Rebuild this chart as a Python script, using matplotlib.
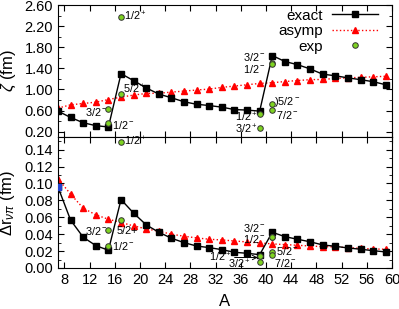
import matplotlib.pyplot as plt
import numpy as np

plt.rcParams['font.family'] = ['Liberation Sans', 'DejaVu Sans']
plt.rcParams['mathtext.fontset'] = 'custom'
plt.rcParams['mathtext.rm'] = 'Liberation Sans'
plt.rcParams['mathtext.it'] = 'Liberation Sans:italic'

A = np.arange(7, 60, 2)

zeta_exact = [0.59, 0.47, 0.37, 0.315, 0.29, 1.30, 1.167, 1.03, 0.913, 0.843, 0.767, 0.72,
              0.696, 0.665, 0.62, 0.61, 0.59, 1.643, 1.53, 1.47, 1.39, 1.29, 1.26, 1.22,
              1.186, 1.148, 1.09]
zeta_asymp = [0.647, 0.71, 0.735, 0.76, 0.81, 0.856, 0.894, 0.925, 0.93, 0.95, 0.97, 0.99,
              1.008, 1.04, 1.065, 1.09, 1.115, 1.129, 1.15, 1.17, 1.186, 1.19, 1.21, 1.22,
              1.23, 1.24, 1.25]

dr_exact = [0.0957, 0.0566, 0.0364, 0.0265, 0.021, 0.081, 0.0649, 0.051, 0.0423, 0.0352,
            0.030, 0.026, 0.0241, 0.0217, 0.0186, 0.0174, 0.0158, 0.0423, 0.0371, 0.034,
            0.031, 0.0273, 0.0257, 0.0237, 0.0222, 0.0205, 0.019]
dr_asymp = [0.1056, 0.0874, 0.0708, 0.0629, 0.0577, 0.0538, 0.0498, 0.0463, 0.0435, 0.040,
            0.0376, 0.0356, 0.034, 0.0332, 0.032, 0.0308, 0.0297, 0.0285, 0.0277, 0.0269,
            0.026, 0.0253, 0.0249, 0.0241, 0.0233, 0.0225, 0.0222]

# experimental points: A, zeta, dr
exp_A = [15, 15, 17, 17, 39, 39, 41, 41, 41, 41]
exp_zeta = [0.633, 0.372, 2.37, 0.913, 0.538, 0.277, 1.51, 1.49, 0.73, 0.62]
exp_dr = [0.0447, 0.026, 0.1487, 0.0573, 0.0142, 0.0075, 0.0371, 0.0371, 0.019, 0.015]

green = '#7ed321'

fig = plt.figure(figsize=(3.99, 3.09), dpi=100)
ax1 = fig.add_axes([0.1454, 0.5566, 0.8371, 0.4272])
ax2 = fig.add_axes([0.1454, 0.1327, 0.8371, 0.4239])

for ax, ex, asy, ey in [(ax1, zeta_exact, zeta_asymp, exp_zeta), (ax2, dr_exact, dr_asymp, exp_dr)]:
    ax.plot(A, ex, '-', color='black', lw=1.0, marker='s', ms=4.5, label='exact', zorder=3)
    ax.plot(A, asy, ':', color='red', lw=1.0, marker='^', ms=4, label='asymp', zorder=2)
    ax.plot(exp_A, ey, 'o', color=green, mec='#333333', mew=0.7, ms=4, ls='none', label='exp', zorder=4)
    ax.set_xlim(7, 60)
    ax.set_xticks(np.arange(8, 61, 4))
    ax.tick_params(direction='in', which='both', top=True, right=True, labelsize=10.5, length=4)
    ax.tick_params(which='minor', length=2.5)

# blue first point in lower panel
ax2.plot(A[:1], dr_exact[:1], 's', color='#2040d0', ms=4.5, zorder=5)

ax1.set_ylim(0.1, 2.6)
ax1.set_yticks(np.arange(0.2, 2.61, 0.4))
ax1.set_yticks(np.arange(0.2, 2.61, 0.2), minor=True)
ax1.set_yticklabels([f'{v:.2f}' for v in np.arange(0.2, 2.61, 0.4)])
ax1.tick_params(labelbottom=False)
ax1.set_ylabel(r'$\zeta$ (fm)', fontsize=12, labelpad=5)

ax2.set_ylim(0, 0.155)
ax2.set_yticks(np.arange(0, 0.141, 0.02))
ax2.set_yticks(np.arange(0, 0.155, 0.01), minor=True)
ax2.set_yticklabels([f'{v:.2f}' for v in np.arange(0, 0.141, 0.02)])
ax2.set_ylabel(r'$\Delta$r$_{\nu\pi}$ (fm)', fontsize=12, labelpad=5)
ax2.set_xlabel('A', fontsize=12, labelpad=5)

leg = ax1.legend(loc='upper right', bbox_to_anchor=(0.965, 0.99), markerfirst=False,
                 frameon=False, fontsize=11, handlelength=3.0, handletextpad=0.6,
                 labelspacing=0.1, borderaxespad=0.05, borderpad=0.1)

fs = 7.8
# top panel labels
ax1.text(17.4, 2.39, r'1/2$^+$', fontsize=fs, va='center')
ax1.text(17.3, 1.0, r'5/2$^+$', fontsize=fs, va='center')
ax1.text(14.8, 0.58, r'3/2$^-$', fontsize=fs, va='center', ha='right')
ax1.text(15.6, 0.33, r'1/2$^-$', fontsize=fs, va='center')
ax1.text(40.0, 1.61, r'3/2$^-$', fontsize=fs, va='center', ha='right')
ax1.text(40.0, 1.38, r'1/2$^-$', fontsize=fs, va='center', ha='right')
ax1.text(41.3, 0.76, r')5/2$^-$', fontsize=fs, va='center')
ax1.text(41.6, 0.52, r'7/2$^-$', fontsize=fs, va='center')
ax1.text(38.7, 0.48, r'1/2$^+$', fontsize=fs, va='center', ha='right')
ax1.text(38.7, 0.245, r'3/2$^+$', fontsize=fs, va='center', ha='right')

# bottom panel labels
ax2.text(17.5, 0.15, r'1/2$^+$', fontsize=fs, va='center')
ax2.text(14.8, 0.0439, r'3/2$^-$', fontsize=fs, va='center', ha='right')
ax2.text(16.3, 0.0439, '5/2+', fontsize=fs, va='center')
ax2.text(15.6, 0.026, r'1/2$^-$', fontsize=fs, va='center')
ax2.text(40.0, 0.0468, r'3/2$^-$', fontsize=fs, va='center', ha='right')
ax2.text(40.0, 0.0338, r'1/2$^-$', fontsize=fs, va='center', ha='right')
ax2.text(41.6, 0.0196, r'5/2$^-$', fontsize=fs, va='center')
ax2.text(41.3, 0.0065, r'7/2$^-$', fontsize=fs, va='center')
ax2.annotate(r'1/2$^+$', xy=(38.7, 0.0124), xytext=(31.0, 0.0124), fontsize=fs, va='center',
             arrowprops=dict(arrowstyle='->', lw=0.7, color='black', shrinkA=0, shrinkB=0))
ax2.text(34.0, 0.0040, r'3/2$^+$', fontsize=fs, va='center')

fig.savefig('out.png', dpi=100)
